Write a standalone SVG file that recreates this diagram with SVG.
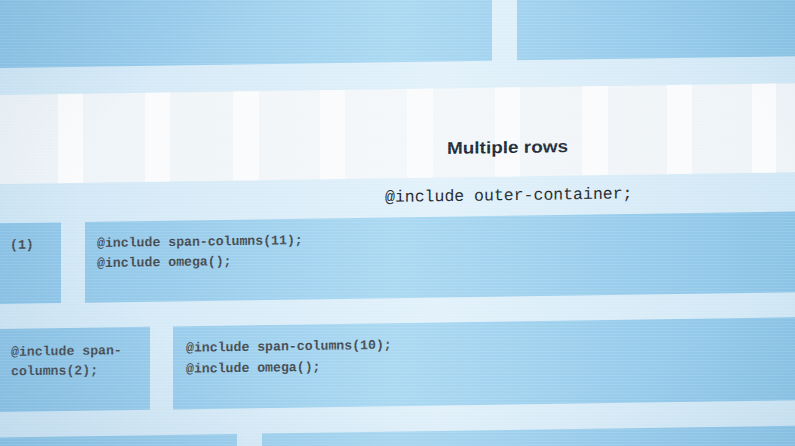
<svg xmlns="http://www.w3.org/2000/svg" width="795" height="446" viewBox="0 0 795 446">
  <defs>
    <linearGradient id="blue" gradientUnits="userSpaceOnUse" x1="0" y1="0" x2="795" y2="0">
      <stop offset="0" stop-color="#8cc3e6"/>
      <stop offset="0.5" stop-color="#abd9f2"/>
      <stop offset="1" stop-color="#8cc4e7"/>
    </linearGradient>
    <linearGradient id="light" gradientUnits="userSpaceOnUse" x1="0" y1="0" x2="795" y2="0">
      <stop offset="0" stop-color="#cfe6f5"/>
      <stop offset="0.55" stop-color="#e2f1fa"/>
      <stop offset="1" stop-color="#d0e7f5"/>
    </linearGradient>
    <linearGradient id="paper" gradientUnits="userSpaceOnUse" x1="0" y1="0" x2="795" y2="0">
      <stop offset="0" stop-color="#edf3f7"/>
      <stop offset="0.5" stop-color="#f4f7f9"/>
      <stop offset="1" stop-color="#eef3f7"/>
    </linearGradient>
    <pattern id="scan" width="4" height="3" patternUnits="userSpaceOnUse">
      <rect x="0" y="0" width="4" height="1" fill="#ffffff" fill-opacity="0.1"/>
    </pattern>
    <radialGradient id="vig" cx="0.55" cy="0.45" r="0.75">
      <stop offset="0.6" stop-color="#5a8fb8" stop-opacity="0"/>
      <stop offset="1" stop-color="#5a8fb8" stop-opacity="0.12"/>
    </radialGradient>
  </defs>
  <style>
    .col { fill: url(#blue); }
    .gut { fill: #fafbfc; }
    .code { font-family: "Liberation Mono", "DejaVu Sans Mono", monospace; font-size: 13.2px; font-weight: bold; fill: #454b51; }
    .outer { font-family: "Liberation Mono", "DejaVu Sans Mono", monospace; font-size: 16.5px; fill: #23282d; }
    .title { font-family: "Liberation Sans", Arial, sans-serif; font-size: 17px; font-weight: bold; fill: #1c2c3a; }
  </style>
  <g transform="skewY(-0.85)">
    <rect id="background" x="-10" y="-20" width="820" height="500" fill="url(#light)"/>
    <g id="top-row">
      <rect class="col" x="-10" y="-20" width="502" height="88"/>
      <rect class="col" x="517" y="-20" width="290" height="88"/>
    </g>
    <g id="header">
      <rect x="-10" y="95" width="820" height="89" fill="url(#paper)"/>
      <rect class="gut" x="58" y="95" width="25" height="89"/>
      <rect class="gut" x="145" y="95" width="25" height="89"/>
      <rect class="gut" x="233" y="95" width="26" height="89"/>
      <rect class="gut" x="320" y="95" width="25" height="89"/>
      <rect class="gut" x="407" y="95" width="26" height="89"/>
      <rect class="gut" x="495" y="95" width="25" height="89"/>
      <rect class="gut" x="582" y="95" width="26" height="89"/>
      <rect class="gut" x="667" y="95" width="25" height="89"/>
      <rect class="gut" x="752" y="95" width="24" height="89"/>
      <text class="title" x="447" y="160.6" textLength="121" lengthAdjust="spacingAndGlyphs">Multiple rows</text>
      <text class="outer" x="385" y="207.7">@include outer-container;</text>
    </g>
    <g id="row1">
      <rect class="col" x="-10" y="223.3" width="71" height="80.7"/>
      <rect class="col" x="85" y="223.3" width="725" height="80.7"/>
      <text class="code" x="10" y="249">(1)</text>
      <text class="code" x="97" y="248.5">@include span-columns(11);</text>
      <text class="code" x="97" y="268.5">@include omega();</text>
    </g>
    <g id="row2">
      <rect class="col" x="-10" y="329" width="160" height="83"/>
      <rect class="col" x="173" y="329" width="637" height="83"/>
      <text class="code" x="11" y="356">@include span-</text>
      <text class="code" x="11" y="375.5">columns(2);</text>
      <text class="code" x="186" y="354.5">@include span-columns(10);</text>
      <text class="code" x="186" y="375.5">@include omega();</text>
    </g>
    <g id="row3">
      <rect class="col" x="-10" y="437.5" width="247" height="40"/>
      <rect class="col" x="262" y="437.5" width="548" height="40"/>
    </g>
  </g>
  <rect x="0" y="0" width="795" height="446" fill="url(#scan)"/>
  <rect x="0" y="0" width="795" height="446" fill="url(#vig)"/>
</svg>
